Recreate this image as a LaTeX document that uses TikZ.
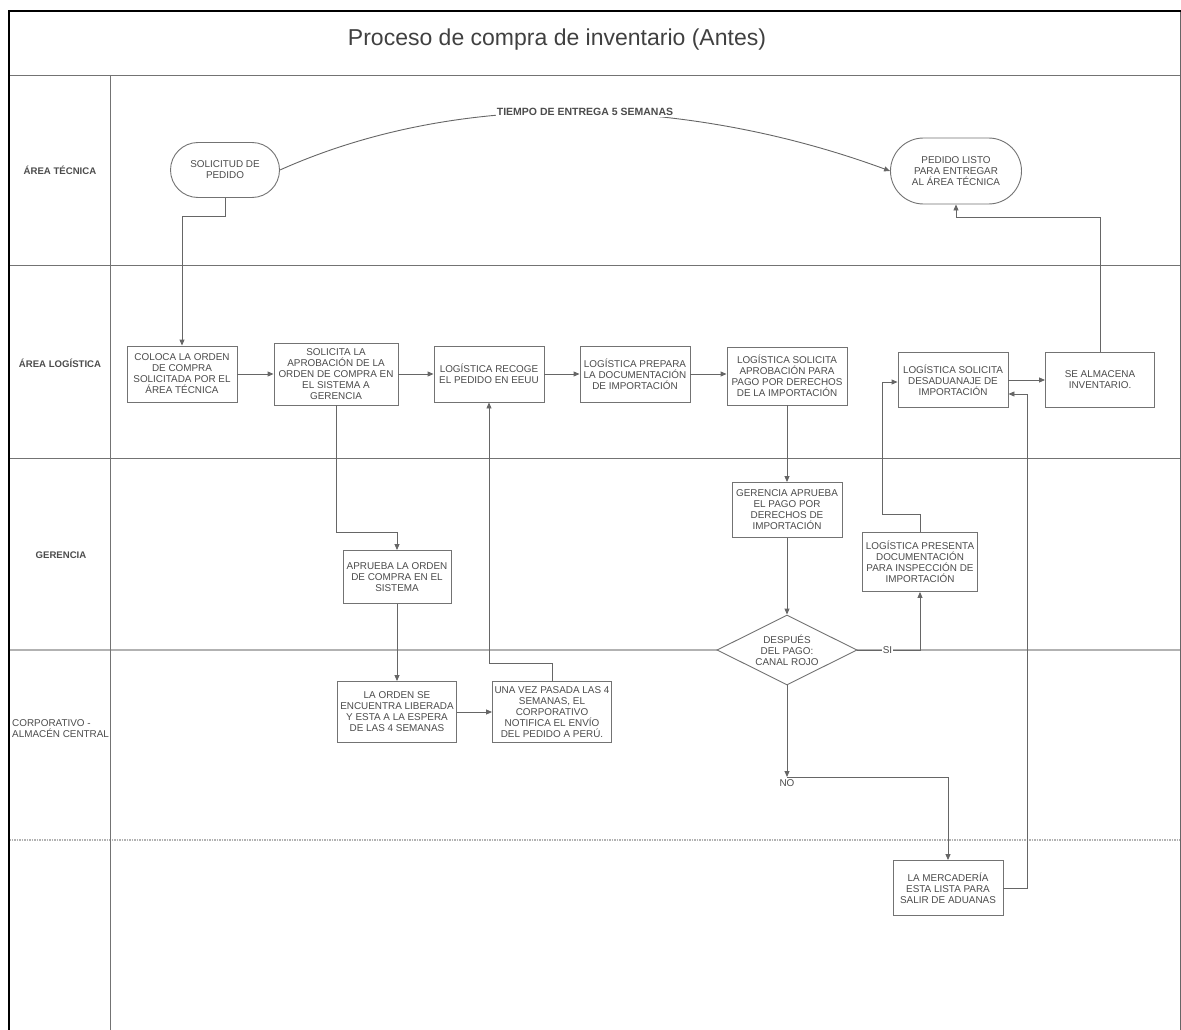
\documentclass[tikz,border=0pt]{standalone}
\usepackage{fontspec}
\setmainfont{Liberation Sans}
\usetikzlibrary{arrows.meta,shapes.geometric,shapes.misc}

\begin{document}
\begin{tikzpicture}[x=1pt,y=-1pt,
		proc/.style={draw=black!55, line width=0.9pt, fill=white, text=black!70, align=center, font=\fontsize{9.9}{11}\selectfont, minimum width=110pt, minimum height=56pt, inner sep=0.5pt},
		term/.style={proc, rounded rectangle},
		decis/.style={proc, diamond, aspect=2, minimum width=140pt, minimum height=70pt, inner sep=0pt},
		flow/.style={draw=black!60, line width=0.9pt, -{Triangle[length=6pt,width=5pt]}},
		lane/.style={draw=black!55, line width=0.8pt},
		lanelbl/.style={text=black!70, font=\bfseries\fontsize{9.6}{11}\selectfont}]
		\useasboundingbox (0,0) rectangle (1181,1030);

		\draw[lane] (9,75) -- (1180,75);
		\draw[lane] (9,265) -- (1180,265);
		\draw[lane] (9,458) -- (1180,458);
		\draw[lane, draw=black!30, line width=1.5pt] (9,650) -- (1180,650);
		\draw[lane, draw=black!30, line width=1.5pt, densely dotted] (9,840) -- (1180,840);
		\draw[lane] (110,75) -- (110,1030);
		\draw[black!60, line width=0.8pt] (1180,11) -- (1180,1030);
		\draw[black, line width=2pt] (9,1030) -- (9,11) -- (1181,11);

		\node[text=black!75, font=\fontsize{23}{27}\selectfont] (titulo) at (557,40) {Proceso de compra de inventario (Antes)};

		\node[lanelbl] (tecnica) at (60,170) {ÁREA TÉCNICA};
		\node[lanelbl] (logistica) at (60,363) {ÁREA LOGÍSTICA};
		\node[lanelbl] (gerencia) at (61,555) {GERENCIA};
		\node[text=black!70, align=left, anchor=west, inner sep=0pt, font=\fontsize{9.9}{11}\selectfont] (corporativo) at (12,729) {CORPORATIVO -\\ALMACÉN CENTRAL};

		\node[term, minimum width=110pt, minimum height=55pt] (sol) at (225,170) {SOLICITUD DE\\PEDIDO};
		\node[term, minimum width=132pt, minimum height=66pt] (listo) at (956,171) {PEDIDO LISTO\\PARA ENTREGAR\\AL ÁREA TÉCNICA};

		\node[proc] (coloca) at (182,374) {COLOCA LA ORDEN\\DE COMPRA\\SOLICITADA POR EL\\ÁREA TÉCNICA};
		\node[proc, minimum width=124pt, minimum height=62pt] (solap) at (336,374) {SOLICITA LA\\APROBACIÓN DE LA\\ORDEN DE COMPRA EN\\EL SISTEMA A\\GERENCIA};
		\node[proc] (recoge) at (489,374) {LOGÍSTICA RECOGE\\EL PEDIDO EN EEUU};
		\node[proc] (prepara) at (635,374) {LOGÍSTICA PREPARA\\LA DOCUMENTACIÓN\\DE IMPORTACIÓN};
		\node[proc, minimum width=120pt, minimum height=58pt] (solpago) at (787,376) {LOGÍSTICA SOLICITA\\APROBACIÓN PARA\\PAGO POR DERECHOS\\DE LA IMPORTACIÓN};
		\node[proc, minimum height=55pt] (desad) at (953,380) {LOGÍSTICA SOLICITA\\DESADUANAJE DE\\IMPORTACIÓN};
		\node[proc, minimum width=109pt, minimum height=55pt] (almacena) at (1100,380) {SE ALMACENA\\INVENTARIO.};

		\node[proc, minimum width=108pt, minimum height=53pt] (aprueba) at (397,577) {APRUEBA LA ORDEN\\DE COMPRA EN EL\\SISTEMA};
		\node[proc, minimum height=55pt] (aprpago) at (787,510) {GERENCIA APRUEBA\\EL PAGO POR\\DERECHOS DE\\IMPORTACIÓN};
		\node[proc, minimum width=115pt, minimum height=59pt] (presenta) at (920,562) {LOGÍSTICA PRESENTA\\DOCUMENTACIÓN\\PARA INSPECCIÓN DE\\IMPORTACIÓN};
		\node[decis] (canal) at (787,650) {DESPUÉS\\DEL PAGO:\\CANAL ROJO};

		\node[proc, minimum width=119pt, minimum height=61pt] (libera) at (397,712) {LA ORDEN SE\\ENCUENTRA LIBERADA\\Y ESTA A LA ESPERA\\DE LAS 4 SEMANAS};
		\node[proc, minimum width=119pt, minimum height=61pt] (notifica) at (552,712) {UNA VEZ PASADA LAS 4\\SEMANAS, EL\\CORPORATIVO\\NOTIFICA EL ENVÍO\\DEL PEDIDO A PERÚ.};
		\coordinate (no) at (787,777);

		\node[proc, minimum height=55pt] (mercad) at (948,888) {LA MERCADERÍA\\ESTA LISTA PARA\\SALIR DE ADUANAS};

		\draw[flow] (sol.east) .. controls +(190,-85) and +(-190,-70) .. node[fill=white, inner sep=1pt, text=black!70, font=\bfseries\fontsize{10.5}{12}\selectfont] {TIEMPO DE ENTREGA 5 SEMANAS} (listo.west);
		\draw[flow] (sol.south) -- ++(0,18) -| (coloca.north);
		\draw[flow] (coloca.east) -- (solap.west);
		\draw[flow] (solap.east) -- (recoge.west);
		\draw[flow] (recoge.east) -- (prepara.west);
		\draw[flow] (prepara.east) -- (prepara.east -| solpago.west);
		\draw[flow] (solap.south) -- ++(0,127) -| (aprueba.north);
		\draw[flow] (aprueba.south) -- (libera.north);
		\draw[flow] (libera.east) -- (notifica.west);
		\draw[flow] (notifica.north) -- ++(0,-18) -| (recoge.south);
		\draw[flow] (solpago.south) -- (aprpago.north);
		\draw[flow] (aprpago.south) -- (canal.north);
		\draw[flow] (canal.east) -| node[pos=0.24, fill=white, inner sep=1pt, text=black!70, font=\fontsize{9.9}{11}\selectfont] {SI} (presenta.south);
		\draw[flow] (presenta.north) -- ++(0,-18) -- ++(-38,0) |- ([yshift=-2pt]desad.west);
		\draw[flow] (canal.south) -- (no) node[below=2pt, inner sep=0pt, text=black!70, font=\fontsize{9.9}{11}\selectfont] {NO};
		\draw[flow] (no) -| (mercad.north);
		\draw[flow] (mercad.east) -- ++(24,0) |- ([yshift=-14pt]desad.east);
		\draw[flow] (desad.east) -- (almacena.west);
		\draw[flow] (almacena.north) -- ++(0,-135) -| (listo.south);
\end{tikzpicture}
\end{document}
